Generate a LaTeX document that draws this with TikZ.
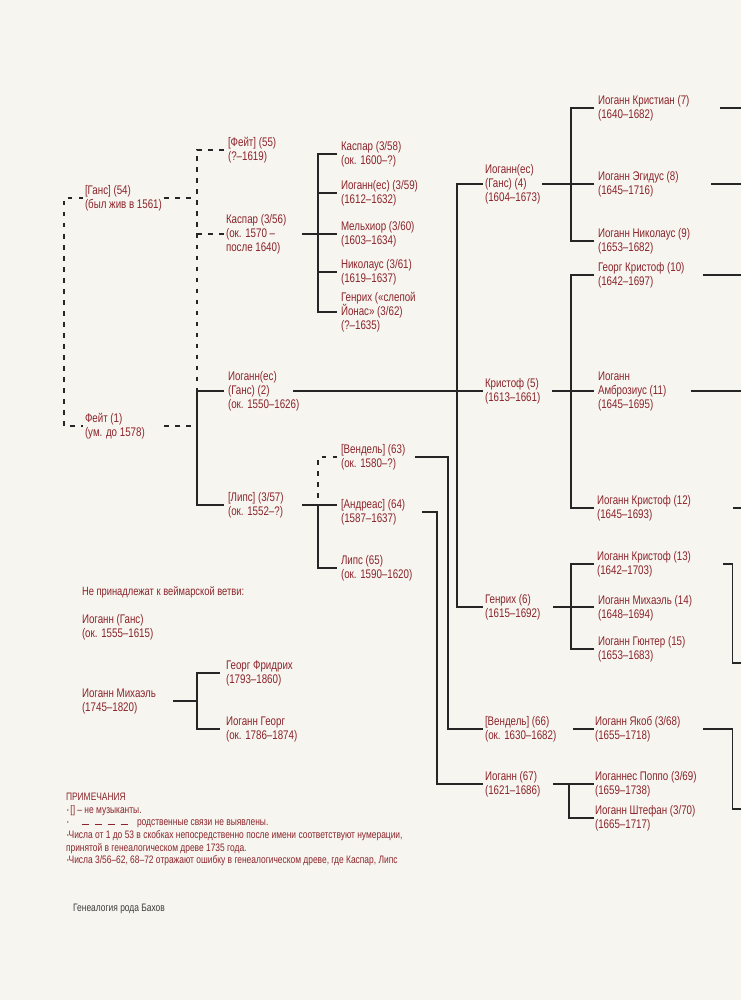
\documentclass[tikz,border=0pt]{standalone}
\usepackage{fontspec}
\setmainfont{Liberation Sans}
\newfontfamily\pfamily[FakeStretch=0.78]{Liberation Sans}
\definecolor{bachred}{RGB}{139,36,42}
\definecolor{linec}{RGB}{38,38,38}
\definecolor{bgc}{RGB}{247,245,240}
\definecolor{footgray}{RGB}{60,60,60}
\newcommand\bul{{\fontsize{6}{6}\selectfont\raisebox{0.3ex}{•}}}
\tikzset{
  person/.style={anchor=west, inner sep=0pt, outer sep=0pt, align=left, text=bachred,
    font=\pfamily\fontsize{12.5}{14}\selectfont},
  note/.style={anchor=west, inner sep=0pt, outer sep=0pt, text=bachred,
    font=\pfamily\fontsize{10.8}{12}\selectfont},
  ln/.style={draw=linec, line width=1.1pt},
  dl/.style={draw=linec, line width=1.1pt, dash pattern=on 4.5pt off 6.5pt},
}
\begin{document}
\begin{tikzpicture}[x=1pt,y=-1pt]
\fill[bgc] (0,0) rectangle (741,1000);
\useasboundingbox (0,0) rectangle (741,1000);

% columns
\coordinate (v0) at (64,0);
\coordinate (t0) at (83,0);
\coordinate (s1) at (164,0);
\coordinate (s12) at (173,0);
\coordinate (v1) at (197,0);
\coordinate (tn) at (220,0);
\coordinate (t1) at (223.5,0);
\coordinate (s3) at (293,0);
\coordinate (s2) at (302,0);
\coordinate (v2) at (318,0);
\coordinate (t2) at (337,0);
\coordinate (s4) at (415,0);
\coordinate (s5) at (422,0);
\coordinate (v5) at (437,0);
\coordinate (v4) at (448,0);
\coordinate (v3) at (457,0);
\coordinate (t3) at (482.5,0);
\coordinate (s6) at (542,0);
\coordinate (s7) at (552,0);
\coordinate (s8) at (553,0);
\coordinate (v7) at (569,0);
\coordinate (v6) at (571,0);
\coordinate (s9) at (573,0);
\coordinate (t4) at (594,0);
\coordinate (r11) at (691,0);
\coordinate (r10) at (703,0);
\coordinate (r8) at (711,0);
\coordinate (r7) at (720,0);
\coordinate (r13) at (723,0);
\coordinate (v8) at (732.5,0);
\coordinate (r12) at (733,0);
\coordinate (edge) at (741,0);
\coordinate (b15) at (741,663);
\coordinate (b68) at (741,809);

% people
\node[person] (ha54) at (85,198) {[Ганс] (54)\\(был жив в 1561)};
\node[person] (f1) at (85,426) {Фейт (1)\\(ум. до 1578)};
\node[person] (f55) at (228,150) {[Фейт] (55)\\(?–1619)};
\node[person] (k56) at (226,234) {Каспар (3/56)\\(ок. 1570 –\\после 1640)};
\node[person] (i2) at (228,391) {Иоганн(ес)\\(Ганс) (2)\\(ок. 1550–1626)};
\node[person] (l57) at (228,505) {[Липс] (3/57)\\(ок. 1552–?)};
\node[person] (k58) at (341,154) {Каспар (3/58)\\(ок. 1600–?)};
\node[person] (i59) at (341,193) {Иоганн(ес) (3/59)\\(1612–1632)};
\node[person] (m60) at (341,234) {Мельхиор (3/60)\\(1603–1634)};
\node[person] (n61) at (341,272) {Николаус (3/61)\\(1619–1637)};
\node[person] (h62) at (341,312) {Генрих («слепой\\Йонас» (3/62)\\(?–1635)};
\node[person] (w63) at (341,457) {[Вендель] (63)\\(ок. 1580–?)};
\node[person] (a64) at (341,512) {[Андреас] (64)\\(1587–1637)};
\node[person] (l65) at (341,568) {Липс (65)\\(ок. 1590–1620)};
\node[person] (i4) at (485,184) {Иоганн(ес)\\(Ганс) (4)\\(1604–1673)};
\node[person] (k5) at (485,391) {Кристоф (5)\\(1613–1661)};
\node[person] (h6) at (485,607) {Генрих (6)\\(1615–1692)};
\node[person] (w66) at (485,729) {[Вендель] (66)\\(ок. 1630–1682)};
\node[person] (i67) at (485,784) {Иоганн (67)\\(1621–1686)};
\node[person] (c7) at (598,108) {Иоганн Кристиан (7)\\(1640–1682)};
\node[person] (e8) at (598,184) {Иоганн Эгидус (8)\\(1645–1716)};
\node[person] (n9) at (598,241) {Иоганн Николаус (9)\\(1653–1682)};
\node[person] (g10) at (598,275) {Георг Кристоф (10)\\(1642–1697)};
\node[person] (a11) at (598,391) {Иоганн\\Амброзиус (11)\\(1645–1695)};
\node[person] (c12) at (597,508) {Иоганн Кристоф (12)\\(1645–1693)};
\node[person] (c13) at (597,564) {Иоганн Кристоф (13)\\(1642–1703)};
\node[person] (m14) at (598,608) {Иоганн Михаэль (14)\\(1648–1694)};
\node[person] (g15) at (598,649) {Иоганн Гюнтер (15)\\(1653–1683)};
\node[person] (j68) at (595,729) {Иоганн Якоб (3/68)\\(1655–1718)};
\node[person] (p69) at (595,784) {Иоганнес Поппо (3/69)\\(1659–1738)};
\node[person] (s70) at (595,818) {Иоганн Штефан (3/70)\\(1665–1717)};

% not Weimar branch
\node[person, font=\pfamily\fontsize{12}{14}\selectfont] (nw) at (82,592) {Не принадлежат к веймарской ветви:};
\node[person] (ig) at (82,627) {Иоганн (Ганс)\\(ок. 1555–1615)};
\node[person] (im) at (82,701) {Иоганн Михаэль\\(1745–1820)};
\node[person] (gf) at (226,673) {Георг Фридрих\\(1793–1860)};
\node[person] (ige) at (226,729) {Иоганн Георг\\(ок. 1786–1874)};

% notes
\node[note] (nt0) at (66,797) {ПРИМЕЧАНИЯ};
\node[note] (nt1) at (67,811) {\bul\,[] – не музыканты.};
\node[note] (nt2) at (137,824) {родственные связи не выявлены.};
\node[note] (ntb) at (67,824) {\bul};
\node[note] (nt3) at (67,836) {\bul Числа от 1 до 53 в скобках непосредственно после имени соответствуют нумерации,};
\node[note] (nt4) at (66,849) {принятой в генеалогическом древе 1735 года.};
\node[note] (nt5) at (67,861) {\bul Числа 3/56–62, 68–72 отражают ошибку в генеалогическом древе, где Каспар, Липс};
\node[anchor=west, inner sep=0pt, text=footgray, font=\pfamily\fontsize{10.8}{12}\selectfont] (ft) at (73,909) {Генеалогия рода Бахов};
\draw[draw=bachred, line width=1pt, dash pattern=on 7pt off 6pt] ([xshift=13]ntb.east) -- ([xshift=-8]nt2.west);

% connectors: generation 1-2
\draw[dl] (ha54.west -| t0) -- (ha54.west -| v0) -- (f1.west -| v0) -- (f1.west -| t0);
\draw[dl] (ha54.west -| s1) -- (ha54.west -| v1);
\draw[dl] (f1.west -| s1) -- (f1.west -| v1);
\draw[dl] (f55.west -| t1) -- (f55.west -| v1) -- (i2.west -| v1);
\draw[dl] (k56.west -| v1) -- (k56.west -| t1);
\draw[ln] (i2.west -| t1) -| (l57.west -| v1) -- (l57.west -| t1);

% Kaspar (3/56) children
\draw[ln] (k56.west -| s2) -- (k56.west -| v2);
\draw[ln] (k58.west -| t2) -| (h62.west -| v2) -- (h62.west -| t2);
\foreach \n in {i59,m60,n61} \draw[ln] (\n.west -| v2) -- (\n.west -| t2);

% Lips (3/57) children
\draw[dl] (w63.west -| t2) -- (w63.west -| v2) -- (l57.west -| v2);
\draw[ln] (l57.west -| s2) -- (l57.west -| t2);
\draw[ln] (l57.west -| v2) -- (l65.west -| v2) -- (l65.west -| t2);

% Johannes (2) children
\draw[ln] (i2.west -| s3) -- (k5.west -| t3);
\draw[ln] (i4.west -| t3) -| (h6.west -| v3) -- (h6.west -| t3);

% Wendel (63), Andreas (64)
\draw[ln] (w63.west -| s4) -- (w63.west -| v4) |- (w66.west -| t3);
\draw[ln] (a64.west -| s5) -- (a64.west -| v5) |- (i67.west -| t3);

% Johannes (4) children
\draw[ln] (i4.west -| s6) -- (i4.west -| t4);
\draw[ln] (c7.west -| t4) -| (n9.west -| v6) -- (n9.west -| t4);

% Christoph (5) children
\draw[ln] (k5.west -| s7) -- (k5.west -| t4);
\draw[ln] (g10.west -| t4) -| (c12.west -| v6) -- (c12.west -| t4);

% Heinrich (6) children
\draw[ln] (h6.west -| s8) -- (h6.west -| t4);
\draw[ln] (c13.west -| t4) -| (g15.west -| v6) -- (g15.west -| t4);

% Wendel (66), Johann (67) children
\draw[ln] (w66.west -| s9) -- (w66.west -| t4);
\draw[ln] (i67.west -| s8) -- (i67.west -| t4);
\draw[ln] (i67.west -| v7) |- (s70.west -| t4);

% right edge exits
\draw[ln] (c7.west -| r7) -- (c7.west -| edge);
\draw[ln] (e8.west -| r8) -- (e8.west -| edge);
\draw[ln] (g10.west -| r10) -- (g10.west -| edge);
\draw[ln] (a11.west -| r11) -- (a11.west -| edge);
\draw[ln] (c12.west -| r12) -- (c12.west -| edge);
\draw[ln] (c13.west -| r13) -| (b15 -| v8) -- (b15);
\draw[ln] (j68.west -| r10) -| (b68 -| v8) -- (b68);

% non-Weimar connectors
\draw[ln] (im.west -| s12) -- (im.west -| v1);
\draw[ln] (gf.west -| tn) -| (ige.west -| v1) -- (ige.west -| tn);
\end{tikzpicture}
\end{document}
